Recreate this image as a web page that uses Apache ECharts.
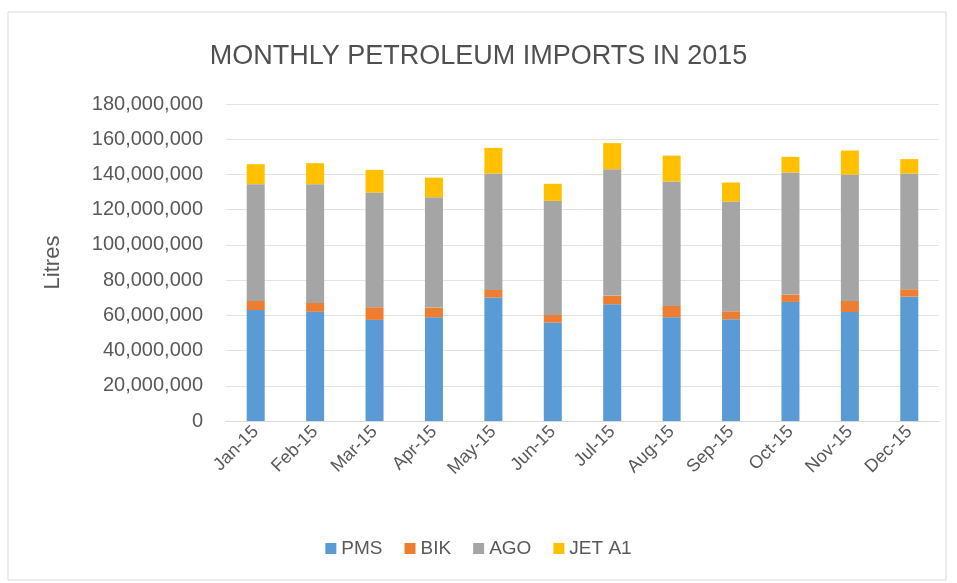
<!DOCTYPE html>
<html>
<head>
<meta charset="utf-8">
<script src="https://cdn.jsdelivr.net/npm/echarts@6/dist/echarts.min.js"></script>
<style>
  html, body { margin: 0; padding: 0; background: #fff; }
  #main { width: 957px; height: 583px; }
</style>
</head>
<body>
<div id="main"></div>
<script>
// months
var months = ['Jan-15', 'Feb-15', 'Mar-15', 'Apr-15', 'May-15', 'Jun-15',
              'Jul-15', 'Aug-15', 'Sep-15', 'Oct-15', 'Nov-15', 'Dec-15'];

// litres
var pms   = [63.0e6, 62.0e6, 57.4e6, 58.9e6, 70.1e6, 55.9e6, 66.3e6, 58.9e6, 57.8e6, 67.6e6, 61.9e6, 70.6e6];
var bik   = [5.2e6, 5.0e6, 7.2e6, 5.5e6, 4.3e6, 4.3e6, 4.9e6, 6.4e6, 4.5e6, 4.2e6, 6.3e6, 4.2e6];
var ago   = [66.3e6, 67.5e6, 65.1e6, 62.7e6, 66.1e6, 64.8e6, 71.8e6, 70.7e6, 62.3e6, 69.3e6, 71.7e6, 65.7e6];
var jetA1 = [11.3e6, 11.9e6, 12.9e6, 11.1e6, 14.6e6, 9.7e6, 14.8e6, 14.7e6, 10.8e6, 8.9e6, 13.7e6, 8.2e6];

var font = "'Liberation Sans', sans-serif";
var txt = '#595959';

function stack(name, data, color) {
    return {
        name: name,
        type: 'bar',
        stack: 'total',
        barWidth: 18,
        itemStyle: { color: color },
        data: data
    };
}

var option = {
    backgroundColor: '#fff',
    animation: false,
    title: {
        text: 'MONTHLY PETROLEUM IMPORTS IN 2015',
        left: 'center',
        top: 38,
        textStyle: { fontFamily: font, fontSize: 27, fontWeight: 'normal', color: '#505050' }
    },
    legend: {
        bottom: 20,
        left: 'center',
        itemWidth: 11,
        itemHeight: 11,
        itemGap: 22,
        icon: 'rect',
        textStyle: { fontFamily: font, fontSize: 19, color: txt },
        data: ['PMS', 'BIK', 'AGO', 'JET A1']
    },
    grid: { left: 226, right: 18, top: 104, bottom: 162 },
    xAxis: {
        type: 'category',
        data: months,
        axisLine: { lineStyle: { color: '#d9d9d9' } },
        axisTick: { show: false },
        axisLabel: {
            rotate: 45,
            margin: 8,
            fontFamily: font, fontSize: 18, color: txt
        }
    },
    yAxis: {
        type: 'value',
        min: 0,
        max: 180000000,
        interval: 20000000,
        name: 'Litres',
        nameLocation: 'middle',
        nameGap: 162,
        nameTextStyle: { fontFamily: font, fontSize: 22, color: txt },
        axisLine: { show: false },
        axisTick: { show: false },
        splitLine: { lineStyle: { color: '#e3e3e3' } },
        axisLabel: {
            margin: 23,
            fontFamily: font, fontSize: 20, color: txt,
            formatter: function (v) { return v.toLocaleString('en-US'); }
        }
    },
    graphic: [{
        type: 'rect',
        shape: { x: 8, y: 12, width: 938, height: 568 },
        style: { fill: 'none', stroke: '#d9d9d9', lineWidth: 1 },
        silent: true
    }],
    series: [
        stack('PMS', pms, '#5b9bd5'),
        stack('BIK', bik, '#ed7d31'),
        stack('AGO', ago, '#a5a5a5'),
        stack('JET A1', jetA1, '#ffc000')
    ]
};

var myChart = echarts.init(document.getElementById('main'));
myChart.setOption(option);
</script>
</body>
</html>
